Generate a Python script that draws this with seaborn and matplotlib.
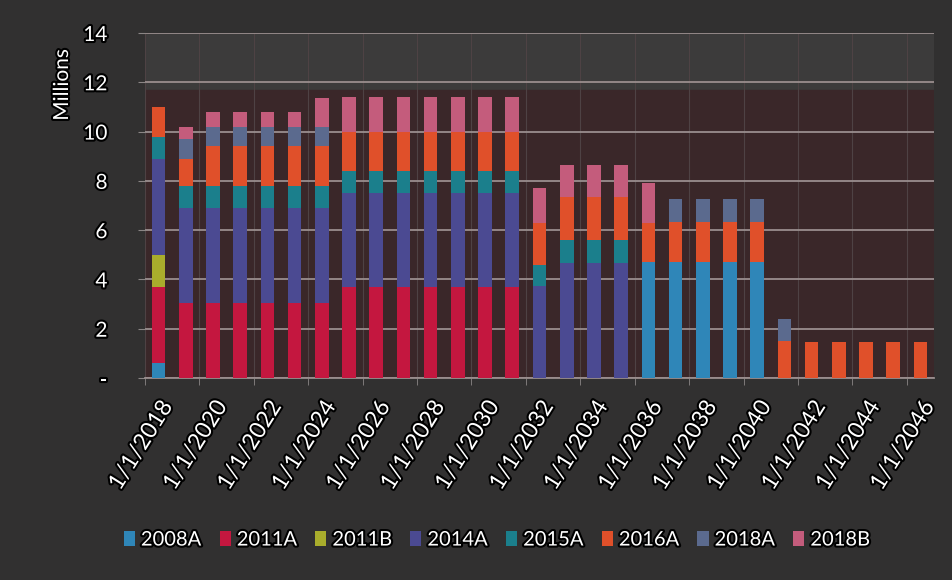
import matplotlib
matplotlib.use("Agg")
import matplotlib.pyplot as plt
import matplotlib.patheffects as pe
from matplotlib.patches import Patch
import pandas as pd
import seaborn as sns

years = list(range(2018, 2047))
tick_labels = [f"1/1/{y}" for y in years[::2]]
ytick_labels = ["-", "2", "4", "6", "8", "10", "12", "14"]
series_names = ["2008A", "2011A", "2011B", "2014A", "2015A", "2016A", "2018A", "2018B"]

s2008A = [0.6, 0, 0, 0, 0, 0, 0, 0, 0, 0, 0, 0, 0, 0, 0, 0, 0, 0,
          4.7, 4.7, 4.7, 4.7, 4.7, 0, 0, 0, 0, 0, 0]
s2011A = [3.1, 3.05, 3.05, 3.05, 3.05, 3.05, 3.05, 3.7, 3.7, 3.7, 3.7, 3.7, 3.7, 3.7,
          0, 0, 0, 0, 0, 0, 0, 0, 0, 0, 0, 0, 0, 0, 0]
s2011B = [1.3, 0, 0, 0, 0, 0, 0, 0, 0, 0, 0, 0, 0, 0, 0, 0, 0, 0,
          0, 0, 0, 0, 0, 0, 0, 0, 0, 0, 0]
s2014A = [3.9, 3.85, 3.85, 3.85, 3.85, 3.85, 3.85, 3.8, 3.8, 3.8, 3.8, 3.8, 3.8, 3.8,
          3.75, 4.65, 4.65, 4.65, 0, 0, 0, 0, 0, 0, 0, 0, 0, 0, 0]
s2015A = [0.9, 0.9, 0.9, 0.9, 0.9, 0.9, 0.9, 0.9, 0.9, 0.9, 0.9, 0.9, 0.9, 0.9,
          0.85, 0.95, 0.95, 0.95, 0, 0, 0, 0, 0, 0, 0, 0, 0, 0, 0]
s2016A = [1.2, 1.1, 1.6, 1.6, 1.6, 1.6, 1.6, 1.6, 1.6, 1.6, 1.6, 1.6, 1.6, 1.6,
          1.7, 1.75, 1.75, 1.75, 1.6, 1.65, 1.65, 1.65, 1.65, 1.5, 1.45, 1.45, 1.45, 1.45, 1.45]
s2018A = [0, 0.8, 0.8, 0.8, 0.8, 0.8, 0.8, 0, 0, 0, 0, 0, 0, 0,
          0, 0, 0, 0, 0, 0.9, 0.9, 0.9, 0.9, 0.9, 0, 0, 0, 0, 0]
s2018B = [0, 0.5, 0.6, 0.6, 0.6, 0.6, 1.15, 1.4, 1.4, 1.4, 1.4, 1.4, 1.4, 1.4,
          1.4, 1.3, 1.3, 1.3, 1.6, 0, 0, 0, 0, 0, 0, 0, 0, 0, 0]

series_values = [s2008A, s2011A, s2011B, s2014A, s2015A, s2016A, s2018A, s2018B]
colors = ["#2f86b8", "#c4173f", "#a9ad2c", "#4b4a92", "#1b7f8c", "#e0502a", "#5b6a8e", "#c45c7c"]

rows = []
for name, vals in zip(series_names, series_values):
    for i, v in enumerate(vals):
        rows.append({"idx": i, "series": name, "value": v})
df = pd.DataFrame(rows)

sns.set_style("dark")
plt.rcParams["font.family"] = ["Lato", "DejaVu Sans"]

fig = plt.figure(figsize=(9.53, 5.8), dpi=100)
fig.patch.set_facecolor("#313030")
ax = fig.add_axes([145 / 953, 1 - 378 / 580, (934 - 145) / 953, (378 - 33) / 580])
ax.set_facecolor("#3c3b3b")
ax.axhspan(0, 11.7, color="#3a2729", zorder=0)

# seaborn stacks the last hue level at the bottom, so reverse the order
sns.histplot(data=df, x="idx", weights="value", hue="series",
             hue_order=series_names[::-1], palette=colors[::-1],
             multiple="stack", discrete=True, shrink=0.5, alpha=1,
             linewidth=0, edgecolor="none", legend=False, ax=ax, zorder=3)

ax.set_xlim(-0.5, 28.5)
ax.set_ylim(0, 14)
ax.set_xlabel("")
ax.set_ylabel("")

stroke = [pe.withStroke(linewidth=3, foreground="black")]

ax.set_yticks(range(0, 15, 2))
ax.set_yticklabels(ytick_labels)
ax.set_xticks(range(0, 29, 2))
ax.set_xticklabels(tick_labels, rotation=58, ha="right", rotation_mode="anchor")
ax.set_xticks([k - 0.5 for k in range(0, 30, 2)], minor=True)

ax.tick_params(axis="x", which="major", length=0, pad=14, labelsize=16.5, colors="white")
ax.tick_params(axis="x", which="minor", length=5, color="#8a8585", direction="out", bottom=True)
ax.tick_params(axis="y", length=5, color="#8a8585", pad=22, labelsize=15, colors="white", left=True)
for lab in ax.get_xticklabels() + ax.get_yticklabels():
    lab.set_path_effects(stroke)
    lab.set_color("white")

ax.yaxis.grid(True, color="#9a8e8e", linewidth=1.3)
ax.xaxis.grid(True, which="minor", color="#4e4244", linewidth=0.8)
ax.xaxis.grid(False, which="major")
ax.set_axisbelow(True)
for side in ["top", "right", "left"]:
    ax.spines[side].set_visible(False)
ax.spines["bottom"].set_color("#9a8e8e")
ax.spines["bottom"].set_linewidth(1.3)

fig.text(62 / 953, 1 - 85 / 580, "Millions", rotation=90, ha="center", va="center",
         color="white", fontsize=15, path_effects=stroke)

handles = [Patch(facecolor=c, edgecolor="none") for c in colors]
leg = fig.legend(handles, series_names, loc="center", bbox_to_anchor=(497 / 953, 1 - 540 / 580),
                 ncol=8, frameon=False, fontsize=14.5, handlelength=0.55, handleheight=0.7,
                 columnspacing=0.9, handletextpad=0.3)
for t in leg.get_texts():
    t.set_color("white")
    t.set_path_effects(stroke)

fig.savefig("out.png", dpi=100, facecolor=fig.get_facecolor())
